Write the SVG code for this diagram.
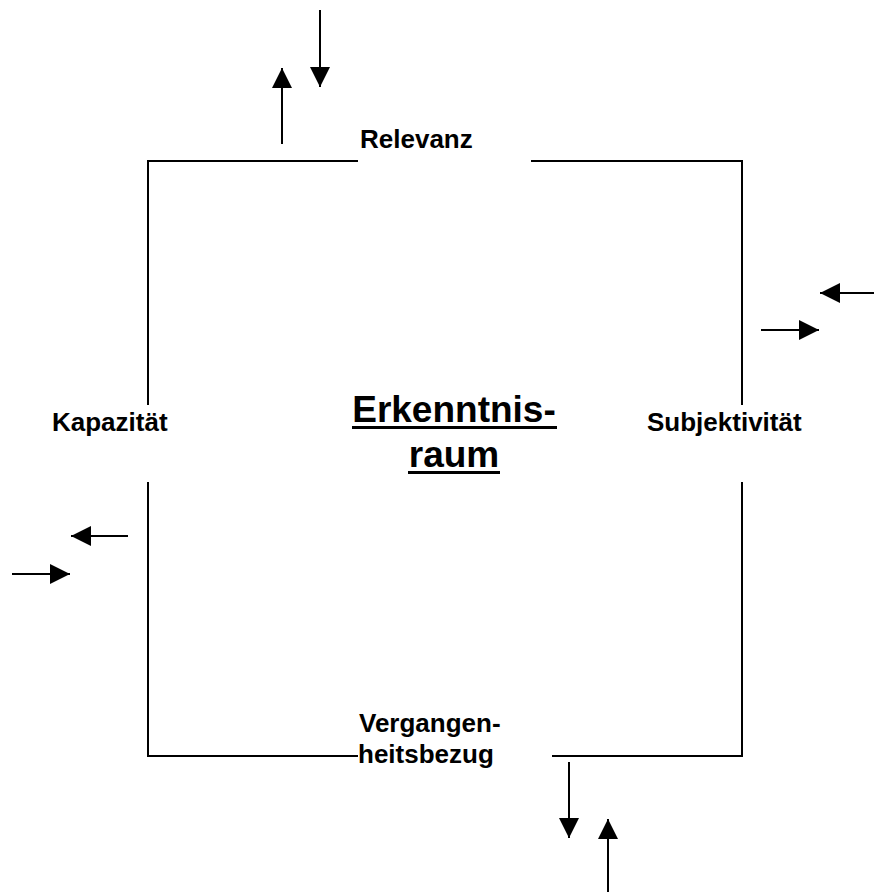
<svg xmlns="http://www.w3.org/2000/svg" width="874" height="892" viewBox="0 0 874 892">
<style>
.ln{stroke:#000;stroke-width:2;fill:none}
.ar{stroke:#000;stroke-width:2;fill:none;marker-end:url(#ah)}
.lb{font-family:"Liberation Sans",Arial,sans-serif;font-weight:bold;font-size:26px;fill:#000}
.tt{font-family:"Liberation Sans",Arial,sans-serif;font-weight:bold;font-size:37px;fill:#000}
</style>
<defs>
<marker id="ah" viewBox="0 0 20 20" refX="20" refY="10" markerWidth="20" markerHeight="20" markerUnits="userSpaceOnUse" orient="auto">
<path d="M0,0 L20,10 L0,20 Z" fill="#000"/>
</marker>
</defs>
<g id="frame">
<path class="ln" d="M358,161 H148 V405"/>
<path class="ln" d="M531,161 H742 V405"/>
<path class="ln" d="M148,482 V756 H358"/>
<path class="ln" d="M742,482 V756 H552"/>
</g>
<g id="center">
<text class="tt" x="454" y="422" text-anchor="middle">Erkenntnis-</text>
<rect x="352" y="426" width="205" height="3" fill="#000"/>
<text class="tt" x="454" y="467" text-anchor="middle">raum</text>
<rect x="408" y="471" width="92" height="3" fill="#000"/>
</g>
<g id="relevanz"><text class="lb" x="360" y="148">Relevanz</text></g>
<g id="kapazitaet"><text class="lb" x="52" y="431">Kapazität</text></g>
<g id="subjektivitaet"><text class="lb" x="647" y="431">Subjektivität</text></g>
<g id="vergangenheitsbezug">
<text class="lb" x="359" y="732">Vergangen-</text>
<text class="lb" x="358" y="763">heitsbezug</text>
</g>
<g id="connectors">
<line class="ar" x1="282" y1="144" x2="282" y2="68"/>
<line class="ar" x1="320" y1="10" x2="320" y2="87"/>
<line class="ar" x1="874" y1="293" x2="820" y2="293"/>
<line class="ar" x1="761" y1="330" x2="819" y2="330"/>
<line class="ar" x1="128" y1="536" x2="71" y2="536"/>
<line class="ar" x1="12" y1="574" x2="70" y2="574"/>
<line class="ar" x1="569" y1="762" x2="569" y2="838"/>
<line class="ar" x1="608" y1="892" x2="608" y2="819"/>
</g>
</svg>
